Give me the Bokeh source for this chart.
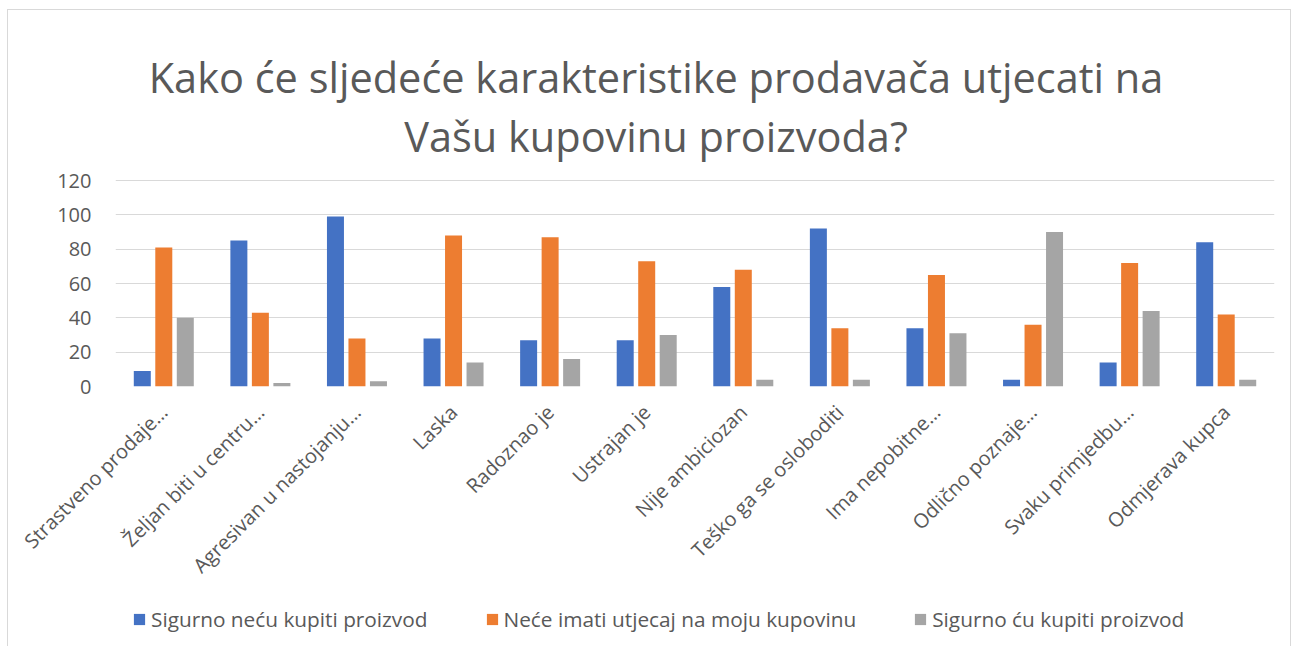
from math import pi
from bokeh.plotting import figure
from bokeh.layouts import column
from bokeh.models import (ColumnDataSource, FixedTicker, Legend, LegendItem,
                          Label, Range1d)
from bokeh.embed import file_html
from bokeh.resources import INLINE

categories = [
    "Strastveno prodaje…", "Željan biti u centru…", "Agresivan u nastojanju…",
    "Laska", "Radoznao je", "Ustrajan je", "Nije ambiciozan",
    "Teško ga se osloboditi", "Ima nepobitne…", "Odlično poznaje…",
    "Svaku primjedbu…", "Odmjerava kupca",
]
sigurno_necu = [9, 85, 99, 28, 27, 27, 58, 92, 34, 4, 14, 84]
nece_utjecaj = [81, 43, 28, 88, 87, 73, 68, 34, 65, 36, 72, 42]
sigurno_cu = [40, 2, 3, 14, 16, 30, 4, 4, 31, 90, 44, 4]
series_names = ["Sigurno neću kupiti proizvod",
                "Neće imati utjecaj na moju kupovinu",
                "Sigurno ću kupiti proizvod"]
colors = ["#4472C4", "#ED7D31", "#A5A5A5"]
y_ticks = [0, 20, 40, 60, 80, 100, 120]
title_lines = ["Kako će sljedeće karakteristike prodavača utjecati na",
               "Vašu kupovinu proizvoda?"]

FONT = "Open Sans"
TXT = "#595959"

# layout (local pixel coordinates inside the bordered chart box)
W = 1282
H_MAIN, H_LEG = 596, 40
FRAME_LEFT, FRAME_RIGHT = 107, 1266
FRAME_TOP, GRID_TOP, FRAME_BOTTOM = 10, 170, 376
TITLE_CX = 647.5
px_per_unit = (FRAME_BOTTOM - GRID_TOP) / 120.0
y_top = 120 + (GRID_TOP - FRAME_TOP) / px_per_unit

p = figure(width=W, height=H_MAIN, output_backend="svg", toolbar_location=None,
           x_range=Range1d(0, len(categories)), y_range=Range1d(0, y_top),
           min_border_left=FRAME_LEFT, min_border_right=W - FRAME_RIGHT,
           min_border_top=FRAME_TOP, min_border_bottom=H_MAIN - FRAME_BOTTOM)
p.outline_line_color = None
p.background_fill_color = "white"
p.border_fill_color = "white"

centers = [i + 0.5 for i in range(len(categories))]
offsets = [-0.2226, 0.0, 0.2226]
bar_w = 0.176
sources = []
for vals, off, col in zip([sigurno_necu, nece_utjecaj, sigurno_cu], offsets, colors):
    src = ColumnDataSource(dict(x=[c + off for c in centers], top=vals))
    sources.append(src)
    p.vbar(x="x", top="top", bottom=0, width=bar_w, source=src,
           fill_color=col, line_color=None)

# axes
p.xgrid.visible = False
p.ygrid.grid_line_color = "#d9d9d9"
p.ygrid.grid_line_width = 1
p.yaxis.ticker = FixedTicker(ticks=y_ticks)
p.yaxis.axis_line_color = None
p.yaxis.major_tick_line_color = None
p.yaxis.major_tick_out = 0
p.yaxis.minor_tick_line_color = None
p.yaxis.major_label_standoff = 24
p.yaxis.major_label_text_font = FONT
p.yaxis.major_label_text_font_size = "20px"
p.yaxis.major_label_text_color = TXT

p.xaxis.ticker = FixedTicker(ticks=centers)
p.xaxis.major_label_overrides = {c: lab for c, lab in zip(centers, categories)}
p.xaxis.axis_line_color = None
p.xaxis.major_tick_line_color = None
p.xaxis.major_tick_out = 0
p.xaxis.minor_tick_line_color = None
p.xaxis.major_label_orientation = pi / 4
p.xaxis.major_label_standoff = 22
p.xaxis.major_label_text_font = FONT
p.xaxis.major_label_text_font_size = "20px"
p.xaxis.major_label_text_color = TXT

# title lines (screen units, relative to the plot frame)
for txt, base in zip(title_lines, [66, 125]):
    p.add_layout(Label(x=TITLE_CX - FRAME_LEFT, y=FRAME_BOTTOM - base,
                       x_units="screen", y_units="screen",
                       text=txt, text_align="center", text_baseline="alphabetic",
                       text_font=FONT, text_font_size="41.5px", text_color=TXT))

# legend strip (its frame is aligned with the chart frame by the column layout)
lg = figure(width=W, height=H_LEG, output_backend="svg", toolbar_location=None,
            x_range=Range1d(0, len(categories)), y_range=Range1d(1000, 1001),
            x_axis_type=None, y_axis_type=None,
            min_border_left=FRAME_LEFT, min_border_right=W - FRAME_RIGHT,
            min_border_top=0, min_border_bottom=0)
lg.outline_line_color = None
lg.xgrid.visible = False
lg.ygrid.visible = False
lg.background_fill_color = "white"
lg.border_fill_color = "white"
items = []
for name, col, src in zip(series_names, colors, sources):
    r = lg.vbar(x="x", top="top", bottom=0, width=bar_w, source=src,
                fill_color=col, line_color=None, visible=False)
    items.append(LegendItem(label=name, renderers=[r]))
legend = Legend(items=items, orientation="horizontal", location=(17, 13),
                padding=0, margin=0, spacing=57, glyph_width=14, glyph_height=14,
                label_standoff=5, label_height=14,
                label_text_font=FONT, label_text_font_size="20.8px",
                label_text_color=TXT, border_line_color=None,
                background_fill_alpha=0, click_policy="none")
lg.add_layout(legend)

layout = column(p, lg, spacing=0, margin=(9, 0, 0, 7),
                styles={"border-left": "1px solid #d9d9d9",
                        "border-top": "1px solid #d9d9d9",
                        "border-right": "1px solid #d9d9d9"})
open("out.html", "w").write(file_html(layout, INLINE))
